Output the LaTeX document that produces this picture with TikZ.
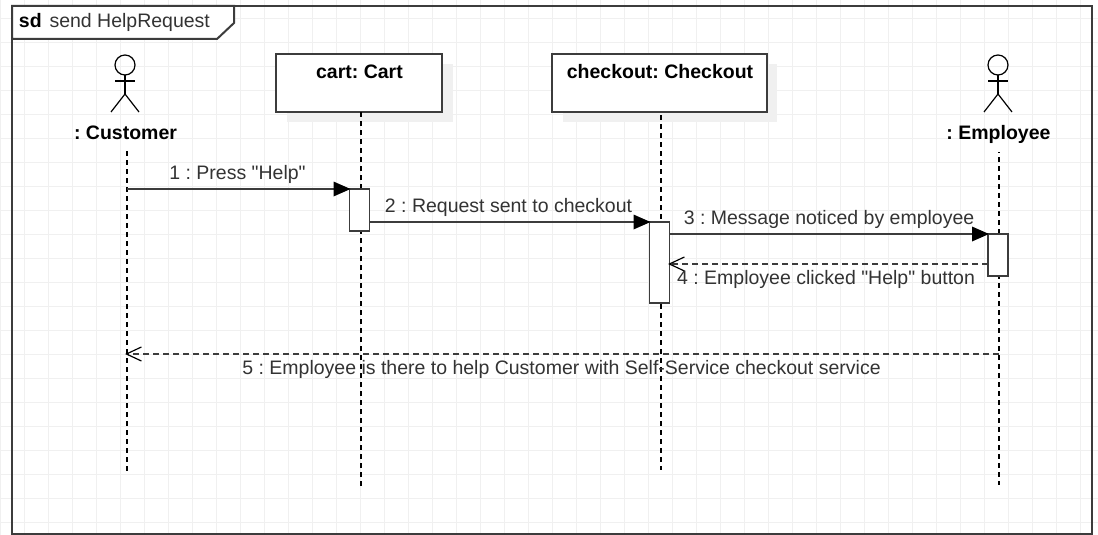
\documentclass[tikz,border=0pt]{standalone}
\usepackage{fontspec}
\setmainfont[Ligatures=TeXOff]{Liberation Sans}
\usetikzlibrary{arrows.meta}
\definecolor{gridc}{HTML}{F0F0F0}
\definecolor{linec}{HTML}{3C3C3C}
\definecolor{textc}{HTML}{333333}
\definecolor{shadowc}{HTML}{F0F0F0}
\tikzset{
  x=1pt,y=-1pt,
  every node/.style={inner sep=0pt,outer sep=0pt},
  msgfont/.style={font=\fontsize{19.5}{22}\selectfont\frenchspacing,text=textc,anchor=base},
  namefont/.style={font=\fontsize{19.5}{22}\bfseries\selectfont\frenchspacing,text=black,anchor=base},
  objbox/.style={draw=linec,line width=1.8pt,fill=white,minimum height=58pt,anchor=north west},
  boxshadow/.style={fill=shadowc,draw=none},
  actbar/.style={draw=linec,line width=1.8pt,fill=white,minimum width=20pt,anchor=north west},
  lifeline/.style={draw=black,line width=1.15pt,dash pattern=on 5pt off 4pt},
  syncmsg/.style={draw=linec,line width=1.8pt,shorten >=-1pt,-{Triangle[length=17pt,width=15pt,black,fill=black,line width=0pt]}},
  replymsg/.style={draw=linec,line width=1.3pt,dash pattern=on 6pt off 4pt,-{Straight Barb[length=15pt,width=14pt,line width=1.2pt,black]}},
  stick/.style={draw=black,line width=1.2pt},
}
\begin{document}
\begin{tikzpicture}
\useasboundingbox (0,0) rectangle (1098,535);
\fill[white] (0,0) rectangle (1098,535);
% grid
\foreach \gx in {0,...,45} \draw[gridc,line width=1pt] ({0.5+24*\gx},0) -- ({0.5+24*\gx},535);
\foreach \gy in {0,...,21} \draw[gridc,line width=1pt] (0,{18.5+24*\gy}) -- (1098,{18.5+24*\gy});
% frame
\node[draw=linec,line width=2pt,minimum width=1080pt,minimum height=528pt,anchor=north west] (frame) at (12,6) {};
\draw[draw=linec,line width=2pt,fill=white,line join=miter] (12,6) -- (234,6) -- (234,23) -- (217,39) -- (12,39) -- cycle;
\node[anchor=base west,font=\fontsize{19.5}{22}\bfseries\selectfont,text=black] (sdk) at (19,28) {sd};
\node[anchor=base west,font=\fontsize{19.5}{22}\selectfont,text=textc] (sdname) at (49.5,28) {send HelpRequest};
% shadows
\fill[boxshadow] (287,64) rectangle (453,122);
\fill[boxshadow] (563,64) rectangle (777,122);
% object boxes
\node[objbox,minimum width=166pt] (cart) at (276,54) {};
\node[objbox,minimum width=215pt] (checkout) at (552,54) {};
\node[namefont] (cartname) at (359.5,78) {cart: Cart};
\node[namefont] (checkoutname) at (660,78) {checkout: Checkout};
% actors
\foreach \ax/\an in {125/a,998/b}{
  \draw[stick] (\ax,65) circle (10);
  \draw[stick] (\ax,75) -- (\ax,94);
  \draw[stick] (\ax-10,81) -- (\ax+10,81);
  \draw[stick] (\ax-14,112) -- (\ax,94) -- (\ax+14,112);
}
\node[namefont] (customer) at (125.5,139) {: Customer};
\node[namefont] (employee) at (998.5,139) {: Employee};
% lifeline end points
\coordinate (custtop) at (127,151);
\coordinate (custend) at (127,471);
\coordinate (carttop) at (361,112);
\coordinate (cartend) at (361,486);
\coordinate (checktop) at (661,112);
\coordinate (checkend) at (661,470);
\coordinate (emptop) at (999,152);
\coordinate (empend) at (999,485);
\draw[lifeline] (custtop) -- (custend);
\draw[lifeline] (carttop) -- (cartend);
\draw[lifeline,dash phase=6pt] (checktop) -- (checkend);
\draw[lifeline,dash phase=4pt] (emptop) -- (empend);
% activation bars
\node[actbar,minimum height=42pt] (cartbar) at (349.5,189) {};
\node[actbar,minimum height=81pt] (checkbar) at (649.5,222) {};
\node[actbar,minimum height=42pt] (empbar) at (988,234) {};
% messages
\coordinate (m1s) at (127,189);
\coordinate (m2s) at (369.5,222);
\coordinate (m3s) at (669.5,234);
\coordinate (m4s) at (988,264);
\coordinate (m4e) at (668,264);
\coordinate (m5s) at (999,354);
\coordinate (m5e) at (125,354);
\draw[syncmsg] (m1s) -- (cartbar.north west);
\draw[syncmsg] (m2s) -- (checkbar.north west);
\draw[syncmsg] (m3s) -- (empbar.north west);
\draw[replymsg] (m4s) -- (m4e);
\draw[replymsg] (m5s) -- (m5e);
% labels
\node[msgfont] (l1) at (237.5,179) {1 : Press "Help"};
\node[msgfont] (l2) at (508.5,212) {2 : Request sent to checkout};
\node[msgfont] (l3) at (829,224) {3 : Message noticed by employee};
\node[msgfont] (l4) at (826,284) {4 : Employee clicked "Help" button};
\node[msgfont] (l5) at (561.5,374) {5 : Employee is there to help Customer with Self-Service checkout service};
\end{tikzpicture}
\end{document}
